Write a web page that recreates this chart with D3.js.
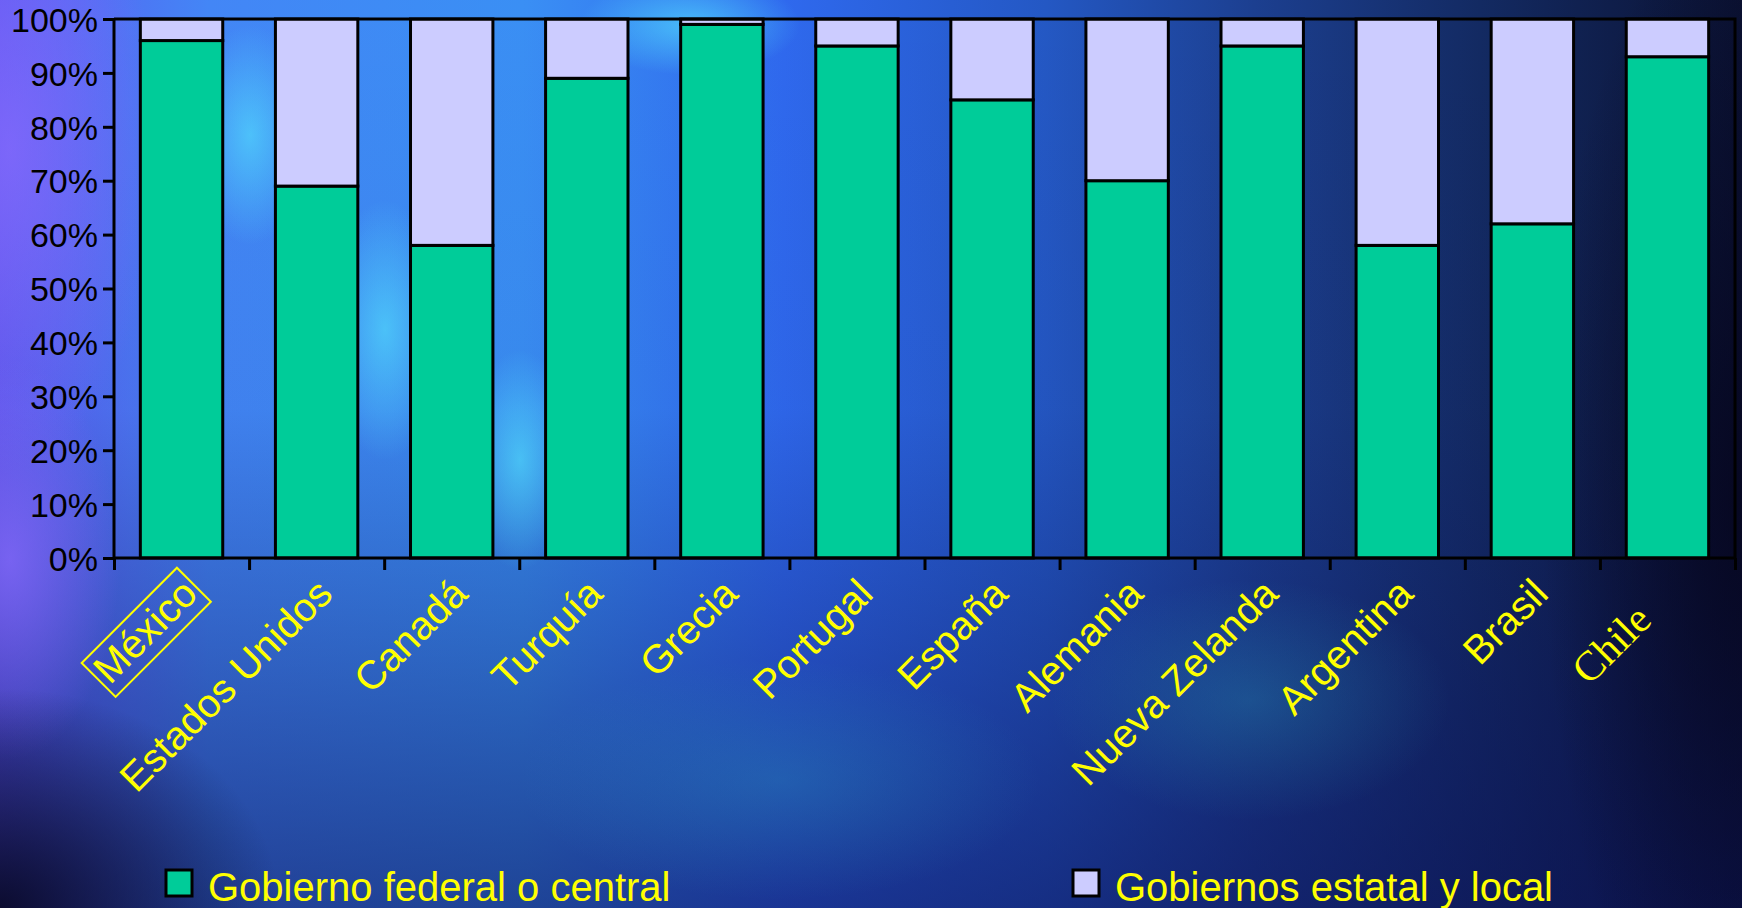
<!DOCTYPE html>
<html>
<head>
<meta charset="utf-8">
<script src="https://cdn.jsdelivr.net/npm/d3@7"></script>
<style>
  html, body { margin: 0; padding: 0; background: #0b1030; overflow: hidden; }
  svg { display: block; }
</style>
</head>
<body>
<svg id="chart"></svg>
<script>
/* data */
const countries = ["México", "Estados Unidos", "Canadá", "Turquía", "Grecia", "Portugal",
                   "España", "Alemania", "Nueva Zelanda", "Argentina", "Brasil", "Chile"];
const federal = [96, 69, 58, 89, 99, 95, 85, 70, 95, 58, 62, 93];
const stateLocal = [4, 31, 42, 11, 1, 5, 15, 30, 5, 42, 38, 7];
const seriesNames = ["Gobierno federal o central", "Gobiernos estatal y local"];
const yTicks = [0, 10, 20, 30, 40, 50, 60, 70, 80, 90, 100];

/* sizes */
const width = 1742, height = 908;
const plot = { left: 114, right: 1735, top: 19, bottom: 558 };
const colors = ["#00CC99", "#CCCCFF"];
const sans = "'Liberation Sans', Arial, sans-serif";

const svg = d3.select("#chart").attr("width", width).attr("height", height);

/* background: blue slide texture made of a few gradients */
const defs = svg.append("defs");
const base = defs.append("linearGradient").attr("id", "bgBase");
[["0%", "#5d5af0"], ["12%", "#4386f6"], ["30%", "#3a8ff4"], ["45%", "#2f69ee"],
 ["60%", "#2458c4"], ["72%", "#1c3f90"], ["85%", "#132a62"], ["100%", "#0b1233"]]
  .forEach(([o, c]) => base.append("stop").attr("offset", o).attr("stop-color", c));

const shade = defs.append("linearGradient").attr("id", "bgShade")
  .attr("x1", 0).attr("y1", 0).attr("x2", 0).attr("y2", 1);
[["0%", 0], ["45%", 0.05], ["70%", 0.3], ["100%", 0.6]]
  .forEach(([o, a]) => shade.append("stop").attr("offset", o)
    .attr("stop-color", "#0c1258").attr("stop-opacity", a));

function blob(id, color, op) {
  const g = defs.append("radialGradient").attr("id", id);
  g.append("stop").attr("offset", "0%").attr("stop-color", color).attr("stop-opacity", op);
  g.append("stop").attr("offset", "45%").attr("stop-color", color).attr("stop-opacity", op * 0.55);
  g.append("stop").attr("offset", "100%").attr("stop-color", color).attr("stop-opacity", 0);
}
blob("cyan", "#55e8ff", 0.6);
blob("violet", "#8a6cff", 0.7);
blob("dark", "#06061e", 0.85);
blob("teal", "#2aa0c0", 0.3);

svg.append("rect").attr("width", width).attr("height", height).attr("fill", "url(#bgBase)");
const blobs = [
  ["violet", 10, 150, 150, 320], ["violet", 10, 560, 110, 200],
  ["cyan", 250, 135, 60, 110], ["cyan", 385, 330, 60, 130], ["cyan", 520, 460, 55, 110],
  ["cyan", 690, 25, 110, 50], ["teal", 780, 780, 260, 120], ["teal", 1250, 700, 200, 120],
  ["dark", 0, 908, 280, 220], ["dark", 1742, 500, 200, 600]
];
svg.append("rect").attr("width", width).attr("height", height).attr("fill", "url(#bgShade)");
svg.append("g").selectAll("ellipse").data(blobs).join("ellipse")
  .attr("cx", d => d[1]).attr("cy", d => d[2]).attr("rx", d => d[3]).attr("ry", d => d[4])
  .attr("fill", d => `url(#${d[0]})`);

/* scales */
const x = d3.scaleBand().domain(countries).range([plot.left, plot.right])
  .paddingInner(0.39).paddingOuter(0.195);
const y = d3.scaleLinear().domain([0, 100]).range([plot.bottom, plot.top]);
const edges = d3.scaleLinear().domain([0, countries.length]).range([plot.left, plot.right]);

/* stacked bars */
const rows = countries.map((c, i) => ({ country: c, federal: federal[i], local: stateLocal[i] }));
const stack = d3.stack().keys(["federal", "local"])(rows);
svg.append("g").selectAll("g").data(stack).join("g")
  .attr("fill", (d, i) => colors[i])
  .selectAll("rect").data(d => d).join("rect")
  .attr("x", d => x(d.data.country))
  .attr("width", x.bandwidth())
  .attr("y", d => y(d[1]))
  .attr("height", d => y(d[0]) - y(d[1]))
  .attr("stroke", "#000").attr("stroke-width", 3);

/* plot frame: top and right edges */
svg.append("path")
  .attr("d", `M${plot.left},${plot.top}H${plot.right}V${plot.bottom}`)
  .attr("fill", "none").attr("stroke", "#000").attr("stroke-width", 3);

/* y axis */
const yAxis = svg.append("g").attr("transform", `translate(${plot.left},0)`)
  .call(d3.axisLeft(y).tickValues(yTicks).tickSize(11).tickPadding(5).tickFormat(d => d + "%"));
yAxis.selectAll("path, line").attr("stroke", "#000").attr("stroke-width", 3);
yAxis.select(".domain").attr("d", `M0,${plot.top}V${plot.bottom}`);
yAxis.selectAll("text").attr("font-family", sans).attr("font-size", 34).attr("fill", "#000")
  .attr("dy", "0.36em");

/* x axis: ticks between categories */
const xAxis = svg.append("g").attr("transform", `translate(0,${plot.bottom})`)
  .call(d3.axisBottom(edges).tickValues(d3.range(countries.length + 1)).tickSize(12).tickFormat(""));
xAxis.selectAll("path, line").attr("stroke", "#000").attr("stroke-width", 3);
xAxis.select(".domain").attr("d", `M${plot.left},0H${plot.right}`);

/* category labels, rotated 45 degrees */
const labelFont = { "Chile": "'Liberation Serif', 'Times New Roman', serif" };
const labelSize = { "Chile": 42 };
const labelNudge = { "Chile": [-32, 26] };
const labels = svg.append("g").selectAll("g").data(countries).join("g")
  .attr("transform", d => {
    const n = labelNudge[d] || [0, 0];
    return `translate(${x(d) + x.bandwidth() / 2 + 18 + n[0]},${plot.bottom + 38 + n[1]}) rotate(-45)`;
  });
labels.append("text")
  .attr("text-anchor", "end")
  .attr("font-family", d => labelFont[d] || sans)
  .attr("font-size", d => labelSize[d] || 40)
  .attr("fill", "#ffff00")
  .text(d => d);

/* highlight box round México */
labels.filter(d => d === "México").each(function () {
  const b = d3.select(this).select("text").node().getBBox();
  d3.select(this).insert("rect", "text")
    .attr("x", b.x - 4).attr("y", b.y).attr("width", b.width + 8).attr("height", b.height + 4)
    .attr("fill", "none").attr("stroke", "#ffff00").attr("stroke-width", 2);
});

/* legend */
const legendX = [166, 1073];
const legend = svg.append("g").selectAll("g").data(seriesNames).join("g")
  .attr("transform", (d, i) => `translate(${legendX[i]},870)`);
legend.append("rect").attr("width", 26).attr("height", 26)
  .attr("fill", (d, i) => colors[i]).attr("stroke", "#000").attr("stroke-width", 3);
legend.append("text").attr("x", 42).attr("y", 31)
  .attr("font-family", sans).attr("font-size", 40).attr("fill", "#ffff00")
  .text(d => d);
</script>
</body>
</html>
